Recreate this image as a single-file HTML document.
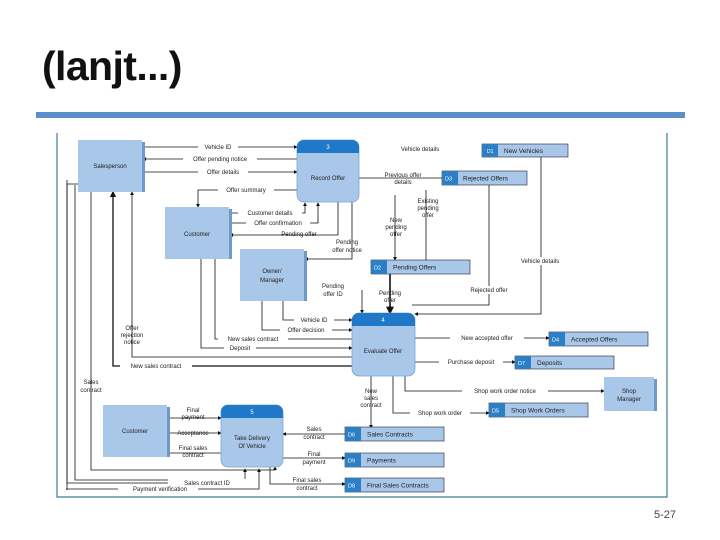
<!DOCTYPE html>
<html><head><meta charset="utf-8"><style>
html,body{margin:0;padding:0;background:#fff;}
body{width:720px;height:540px;position:relative;overflow:hidden;font-family:"Liberation Sans",sans-serif;}
.t{position:absolute;left:42px;top:43px;font-size:41px;font-weight:bold;color:#111;letter-spacing:-0.6px;}
.bar{position:absolute;left:36px;top:112px;width:649px;height:6px;background:#5b8fcb;}
.pg{position:absolute;left:654px;top:509px;font-size:11px;color:#444;}
</style></head><body>
<div class="t">(lanjt...)</div>
<div class="bar"></div>
<svg width="720" height="540" style="position:absolute;left:0;top:0" font-family="Liberation Sans, sans-serif" font-size="6" fill="#222">
<defs>
<marker id="a" markerWidth="5" markerHeight="5" refX="4" refY="2.5" orient="auto"><path d="M0,0 L5,2.5 L0,5z" fill="#111"/></marker>
</defs>
<g stroke="#3f7f93" stroke-width="1.2" fill="none"><path d="M57,133 V497 H667 V133"/></g>
<g stroke="#111" stroke-width="0.8" fill="none">
<path d="M142,147 H297" marker-end="url(#a)"/>
<path d="M297,159 H143" marker-end="url(#a)"/>
<path d="M142,172 H297" marker-end="url(#a)"/>
<path d="M297,190 H198 V207" marker-end="url(#a)"/>
<path d="M229,213 H305 V203" marker-end="url(#a)"/>
<path d="M229,223 H318 V203" marker-end="url(#a)"/>
<path d="M338,202 V235 H230" marker-end="url(#a)"/>
<path d="M352,202 V259 H305" marker-end="url(#a)"/>
<path d="M442,178 H359"/>
<path d="M395,195 V260" marker-end="url(#a)"/>
<path d="M426,190 V260"/>
<path d="M489,185 V305 H412"/>
<path d="M541,157 V314 H415" marker-end="url(#a)"/>
<path d="M390,274 V313" marker-end="url(#a)" stroke-width="1.6"/>
<path d="M362,290 V313" marker-end="url(#a)"/>
<path d="M283,301 V320 H352" marker-end="url(#a)"/>
<path d="M262,301 V330 H352" marker-end="url(#a)"/>
<path d="M215,259 V339 H352"/>
<path d="M201,259 V348 H352" marker-end="url(#a)"/>
<path d="M352,357 H132 V192" marker-end="url(#a)"/>
<path d="M352,366 H113 V192" marker-end="url(#a)" stroke-width="1.3"/>
<path d="M78,184 H67 V483 H221"/>
<path d="M67,180 V490"/>
<path d="M91,192 V470 H275 V467" marker-end="url(#a)"/>
<path d="M75,185 V480 H245 V469" marker-end="url(#a)"/>
<path d="M66,489 H259 V469" marker-end="url(#a)"/>
<path d="M415,338 H549" marker-end="url(#a)"/>
<path d="M415,362 H515" marker-end="url(#a)"/>
<path d="M405,376 V391 H604" marker-end="url(#a)"/>
<path d="M393,376 V413 H489" marker-end="url(#a)"/>
<path d="M371,376 V428" marker-end="url(#a)"/>
<path d="M166,418 H221" marker-end="url(#a)"/>
<path d="M167,433 H221" marker-end="url(#a)"/>
<path d="M221,453 H167" marker-end="url(#a)"/>
<path d="M345,434 H283" marker-end="url(#a)"/>
<path d="M283,458 H345" marker-end="url(#a)"/>
<path d="M270,467 V484 H345" marker-end="url(#a)"/>
</g>
<g>
<rect x="78" y="140" width="64" height="52" fill="#a9c7e8"/><rect x="142" y="142" width="3" height="50" fill="#6f9ac8"/>
<rect x="165" y="207" width="64" height="52" fill="#a9c7e8"/><rect x="229" y="209" width="3" height="50" fill="#6f9ac8"/>
<rect x="240" y="249" width="64" height="52" fill="#a9c7e8"/><rect x="304" y="251" width="3" height="50" fill="#6f9ac8"/>
<rect x="103" y="405" width="64" height="52" fill="#a9c7e8"/><rect x="167" y="407" width="3" height="50" fill="#6f9ac8"/>
<rect x="604" y="377" width="50" height="34" fill="#a9c7e8"/><rect x="654" y="379" width="3" height="32" fill="#6f9ac8"/>
</g>
<g text-anchor="middle">
<text x="110" y="168">Salesperson</text>
<text x="197" y="236">Customer</text>
<text x="272" y="273">Owner/</text><text x="272" y="282">Manager</text>
<text x="135" y="433">Customer</text>
<text x="629" y="393">Shop</text><text x="629" y="401">Manager</text>
</g>
<g>
<rect x="297" y="140" width="62" height="62" rx="7" fill="#a9c7e8" stroke="#7aa5d3" stroke-width="0.8"/>
<path d="M297,153 V147 a7,7 0 0 1 7,-7 H352 a7,7 0 0 1 7,7 V153z" fill="#1f78c8"/>
<rect x="352" y="313" width="63" height="63" rx="7" fill="#a9c7e8" stroke="#7aa5d3" stroke-width="0.8"/>
<path d="M352,326 V320 a7,7 0 0 1 7,-7 H408 a7,7 0 0 1 7,7 V326z" fill="#1f78c8"/>
<rect x="221" y="405" width="62" height="62" rx="7" fill="#a9c7e8" stroke="#7aa5d3" stroke-width="0.8"/>
<path d="M221,418 V412 a7,7 0 0 1 7,-7 H276 a7,7 0 0 1 7,7 V418z" fill="#1f78c8"/>
</g>
<g text-anchor="middle">
<text x="328" y="149" fill="#fff">3</text><text x="328" y="180">Record Offer</text>
<text x="383" y="322" fill="#fff">4</text><text x="383" y="353">Evaluate Offer</text>
<text x="252" y="414" fill="#fff">5</text><text x="252" y="440">Take Delivery</text><text x="252" y="448">Of Vehicle</text>
</g>
<g font-size="6.5">
<g transform="translate(482,144)"><rect width="86" height="13" fill="#a9c7e8" stroke="#223" stroke-width="0.6"/><rect width="16" height="13" fill="#2c7fc4"/><text x="5" y="9" fill="#fff" font-size="5">D1</text><text x="22" y="9">New Vehicles</text></g>
<g transform="translate(442,171)"><rect width="85" height="14" fill="#a9c7e8" stroke="#223" stroke-width="0.6"/><rect width="16" height="14" fill="#2c7fc4"/><text x="3" y="9.5" fill="#fff" font-size="5.5">D3</text><text x="21" y="9.5">Rejected Offers</text></g>
<g transform="translate(371,260)"><rect width="99" height="14" fill="#a9c7e8" stroke="#223" stroke-width="0.6"/><rect width="16" height="14" fill="#2c7fc4"/><text x="3" y="9.5" fill="#fff" font-size="5.5">D2</text><text x="22" y="9.5">Pending Offers</text></g>
<g transform="translate(549,332)"><rect width="99" height="14" fill="#a9c7e8" stroke="#223" stroke-width="0.6"/><rect width="16" height="14" fill="#2c7fc4"/><text x="3" y="9.5" fill="#fff" font-size="5.5">D4</text><text x="22" y="9.5">Accepted Offers</text></g>
<g transform="translate(515,356)"><rect width="99" height="13" fill="#a9c7e8" stroke="#223" stroke-width="0.6"/><rect width="16" height="13" fill="#2c7fc4"/><text x="3" y="9" fill="#fff" font-size="5.5">D7</text><text x="22" y="9">Deposits</text></g>
<g transform="translate(489,403)"><rect width="99" height="14" fill="#a9c7e8" stroke="#223" stroke-width="0.6"/><rect width="16" height="14" fill="#2c7fc4"/><text x="3" y="9.5" fill="#fff" font-size="5.5">D5</text><text x="22" y="9.5">Shop Work Orders</text></g>
<g transform="translate(345,427)"><rect width="99" height="14" fill="#a9c7e8" stroke="#223" stroke-width="0.6"/><rect width="16" height="14" fill="#2c7fc4"/><text x="3" y="9.5" fill="#fff" font-size="5.5">D6</text><text x="22" y="9.5">Sales Contracts</text></g>
<g transform="translate(345,453)"><rect width="99" height="14" fill="#a9c7e8" stroke="#223" stroke-width="0.6"/><rect width="16" height="14" fill="#2c7fc4"/><text x="3" y="9.5" fill="#fff" font-size="5.5">D9</text><text x="22" y="9.5">Payments</text></g>
<g transform="translate(345,478)"><rect width="99" height="14" fill="#a9c7e8" stroke="#223" stroke-width="0.6"/><rect width="16" height="14" fill="#2c7fc4"/><text x="3" y="9.5" fill="#fff" font-size="5.5">D8</text><text x="22" y="9.5">Final Sales Contracts</text></g>
</g>
<g font-size="6" text-anchor="middle">
<g fill="#fff"><rect x="198" y="143" width="40" height="8"/><rect x="183" y="155" width="74" height="8"/><rect x="198" y="168" width="50" height="8"/><rect x="218" y="186" width="56" height="8"/><rect x="238" y="209" width="64" height="8"/><rect x="246" y="219" width="64" height="8"/>
<rect x="294" y="316" width="40" height="8"/><rect x="280" y="326" width="52" height="8"/><rect x="218" y="335" width="70" height="8"/><rect x="224" y="344" width="32" height="8"/><rect x="120" y="362" width="72" height="8"/><rect x="450" y="334" width="74" height="8"/><rect x="439" y="358" width="64" height="8"/><rect x="462" y="387" width="86" height="8"/><rect x="410" y="409" width="60" height="8"/><rect x="168" y="479" width="78" height="8"/><rect x="118" y="485" width="80" height="8"/><rect x="511" y="257" width="56" height="8"/><rect x="464" y="286" width="52" height="8"/></g>
<text x="218" y="149">Vehicle ID</text>
<text x="220" y="161">Offer pending notice</text>
<text x="223" y="174">Offer details</text>
<text x="246" y="192">Offer summary</text>
<text x="270" y="215">Customer details</text>
<text x="278" y="225">Offer confirmation</text>
<text x="299" y="236">Pending offer</text>
<text x="347" y="244">Pending</text><text x="347" y="252">offer notice</text>
<text x="420" y="151">Vehicle details</text>
<text x="403" y="177">Previous offer</text><text x="403" y="184">details</text>
<text x="428" y="203">Existing</text><text x="428" y="210">pending</text><text x="428" y="217">offer</text>
<text x="396" y="222">New</text><text x="396" y="229">pending</text><text x="396" y="236">offer</text>
<text x="540" y="263">Vehicle details</text>
<text x="489" y="292">Rejected offer</text>
<text x="333" y="288">Pending</text><text x="333" y="296">offer ID</text>
<text x="390" y="295">Pending</text><text x="390" y="302">offer</text>
<text x="314" y="322">Vehicle ID</text>
<text x="306" y="332">Offer decision</text>
<text x="253" y="341">New sales contract</text>
<text x="240" y="350">Deposit</text>
<text x="132" y="330">Offer</text><text x="132" y="337">rejection</text><text x="132" y="344">notice</text>
<text x="156" y="368">New sales contract</text>
<text x="91" y="384">Sales</text><text x="91" y="392">contract</text>
<text x="487" y="340">New accepted offer</text>
<text x="471" y="364">Purchase deposit</text>
<text x="505" y="393">Shop work order notice</text>
<text x="440" y="415">Shop work order</text>
<text x="371" y="393">New</text><text x="371" y="400">sales</text><text x="371" y="407">contract</text>
<text x="193" y="412">Final</text><text x="193" y="419">payment</text>
<text x="193" y="435">Acceptance</text>
<text x="193" y="450">Final sales</text><text x="193" y="457">contract</text>
<text x="314" y="431">Sales</text><text x="314" y="439">contract</text>
<text x="314" y="456">Final</text><text x="314" y="464">payment</text>
<text x="307" y="482">Final sales</text><text x="307" y="490">contract</text>
<text x="207" y="485">Sales contract ID</text>
<text x="160" y="491">Payment verification</text>
</g>
</svg>
<div class="pg">5-27</div>
</body></html>
